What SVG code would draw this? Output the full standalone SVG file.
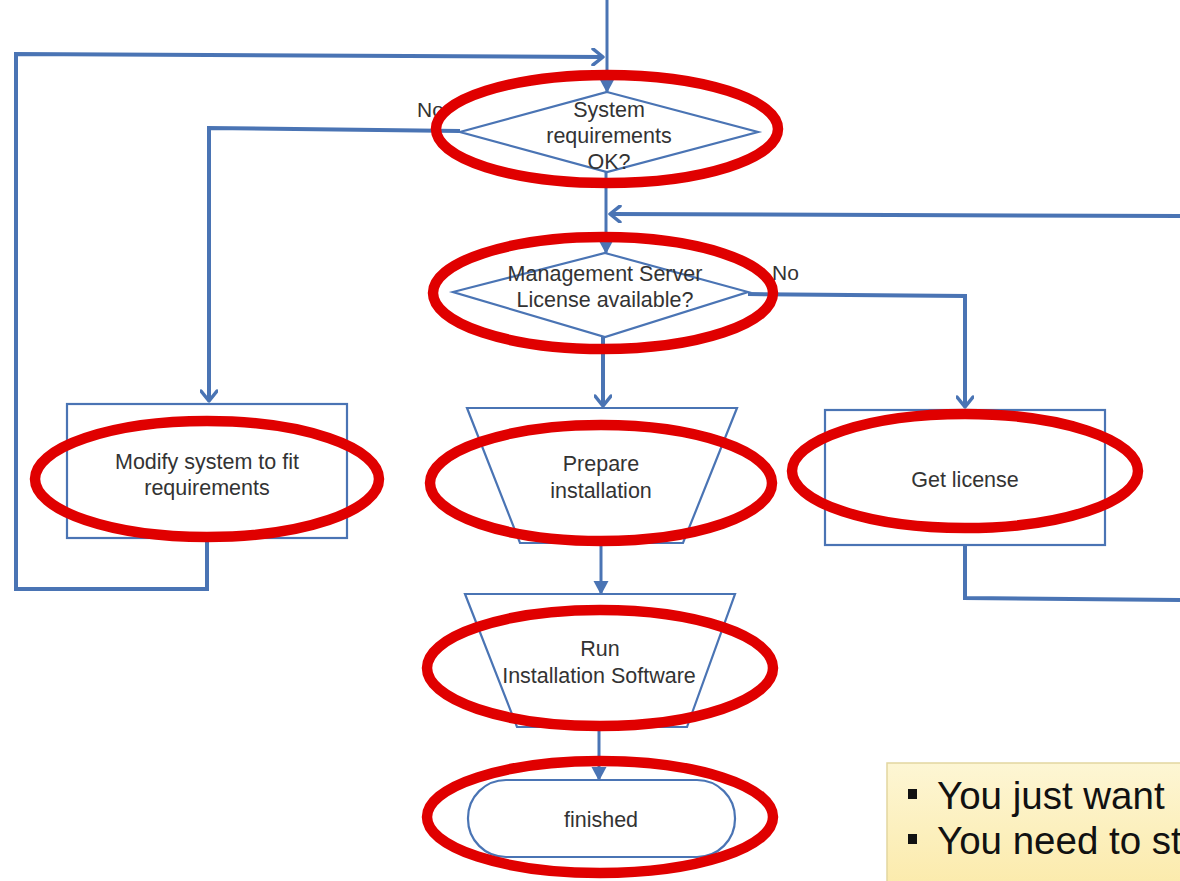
<svg xmlns="http://www.w3.org/2000/svg" width="1180" height="881" viewBox="0 0 1180 881">
<defs>
<marker id="tri" markerWidth="16" markerHeight="16" refX="13" refY="7.5" orient="auto" markerUnits="userSpaceOnUse"><path d="M0,0 L14,7.5 L0,15 Z" fill="#4a74b4"/></marker>
<marker id="chev" markerWidth="16" markerHeight="18" refX="12" refY="9" orient="auto" markerUnits="userSpaceOnUse"><path d="M2,1 L12,9 L2,17" fill="none" stroke="#4a74b4" stroke-width="3.5" stroke-linecap="round" stroke-linejoin="round"/></marker>
<linearGradient id="note" x1="0" y1="0" x2="0" y2="1"><stop offset="0" stop-color="#fdf6d4"/><stop offset="1" stop-color="#fbe9a6"/></linearGradient>
</defs>
<style>
.con{fill:none;stroke:#4a74b4;stroke-width:4;stroke-linejoin:miter}
.thin{fill:none;stroke:#4a74b4;stroke-width:3}
.shape{fill:#fff;stroke:#4a74b4;stroke-width:2.2}
.t{font-family:"Liberation Sans",Arial,sans-serif;font-size:21.5px;fill:#333;text-anchor:middle}
.lbl{font-family:"Liberation Sans",Arial,sans-serif;font-size:21px;fill:#333}
.ring{fill:none;stroke:#e00000;stroke-width:10.5}
.big{font-family:"Liberation Sans",Arial,sans-serif;font-size:38.5px;fill:#111}
</style>
<rect width="1180" height="881" fill="#fff"/>
<g id="connectors">
<path class="thin" d="M607,0 L607,92" marker-end="url(#tri)"/>
<path class="con" d="M207,540 L207,589 L16,589 L16,54 L603,57" marker-end="url(#chev)"/>
<path class="con" d="M460,131 L209,128 L209,401" marker-end="url(#chev)"/>
<path class="thin" d="M606,172 L606,253" marker-end="url(#tri)"/>
<path class="con" d="M1180,216 L610,214" marker-end="url(#chev)"/>
<path class="con" d="M748,294 L965,296 L965,407" marker-end="url(#chev)"/>
<path class="con" d="M603,337 L603,406" marker-end="url(#chev)"/>
<path class="con" d="M965,545 L965,598 L1180,600"/>
<path class="thin" d="M601,543 L601,594" marker-end="url(#tri)"/>
<path class="thin" d="M599,727 L599,780" marker-end="url(#tri)"/>
</g>
<g id="decision1">
<polygon class="shape" points="607,92 758,132 607,172 460,132"/>
<text class="t" x="609" y="117">System</text>
<text class="t" x="609" y="143">requirements</text>
<text class="t" x="609" y="169">OK?</text>
<text class="lbl" x="417" y="117">No</text>
</g>
<g id="decision2">
<polygon class="shape" points="605,253 748,292 605,337 453,292"/>
<text class="t" x="605" y="281">Management Server</text>
<text class="t" x="605" y="307">License available?</text>
<text class="lbl" x="772" y="280">No</text>
</g>
<g id="modify">
<rect class="shape" x="67" y="404" width="280" height="134"/>
<text class="t" x="207" y="469">Modify system to fit</text>
<text class="t" x="207" y="495">requirements</text>
</g>
<g id="prepare">
<polygon class="shape" points="467,408 737,408 683,543 520,543"/>
<text class="t" x="601" y="471">Prepare</text>
<text class="t" x="601" y="498">installation</text>
</g>
<g id="getlicense">
<rect class="shape" x="825" y="410" width="280" height="135"/>
<text class="t" x="965" y="487">Get license</text>
</g>
<g id="run">
<polygon class="shape" points="465,594 735,594 687,727 517,727"/>
<text class="t" x="600" y="656">Run</text>
<text class="t" x="599" y="683">Installation Software</text>
</g>
<g id="finished">
<rect class="shape" x="468" y="780" width="267" height="77" rx="38" ry="38"/>
<text class="t" x="601" y="827">finished</text>
</g>
<g id="highlights">
<ellipse class="ring" cx="607" cy="129" rx="171" ry="54"/>
<ellipse class="ring" cx="603" cy="293" rx="170" ry="56"/>
<ellipse class="ring" cx="207" cy="479" rx="172" ry="58"/>
<ellipse class="ring" cx="601" cy="483" rx="171" ry="58"/>
<ellipse class="ring" cx="965" cy="471" rx="173" ry="57"/>
<ellipse class="ring" cx="600" cy="668" rx="173" ry="58"/>
<ellipse class="ring" cx="600" cy="817" rx="173" ry="56"/>
</g>
<g id="note">
<rect x="887" y="763" width="310" height="140" fill="url(#note)" stroke="#e2d6a0" stroke-width="1.5"/>
<rect x="908" y="789" width="9" height="10" fill="#111"/>
<text class="big" x="937" y="809">You just want</text>
<rect x="908" y="834" width="9" height="10" fill="#111"/>
<text class="big" x="937" y="854">You need to st</text>
</g>
</svg>
